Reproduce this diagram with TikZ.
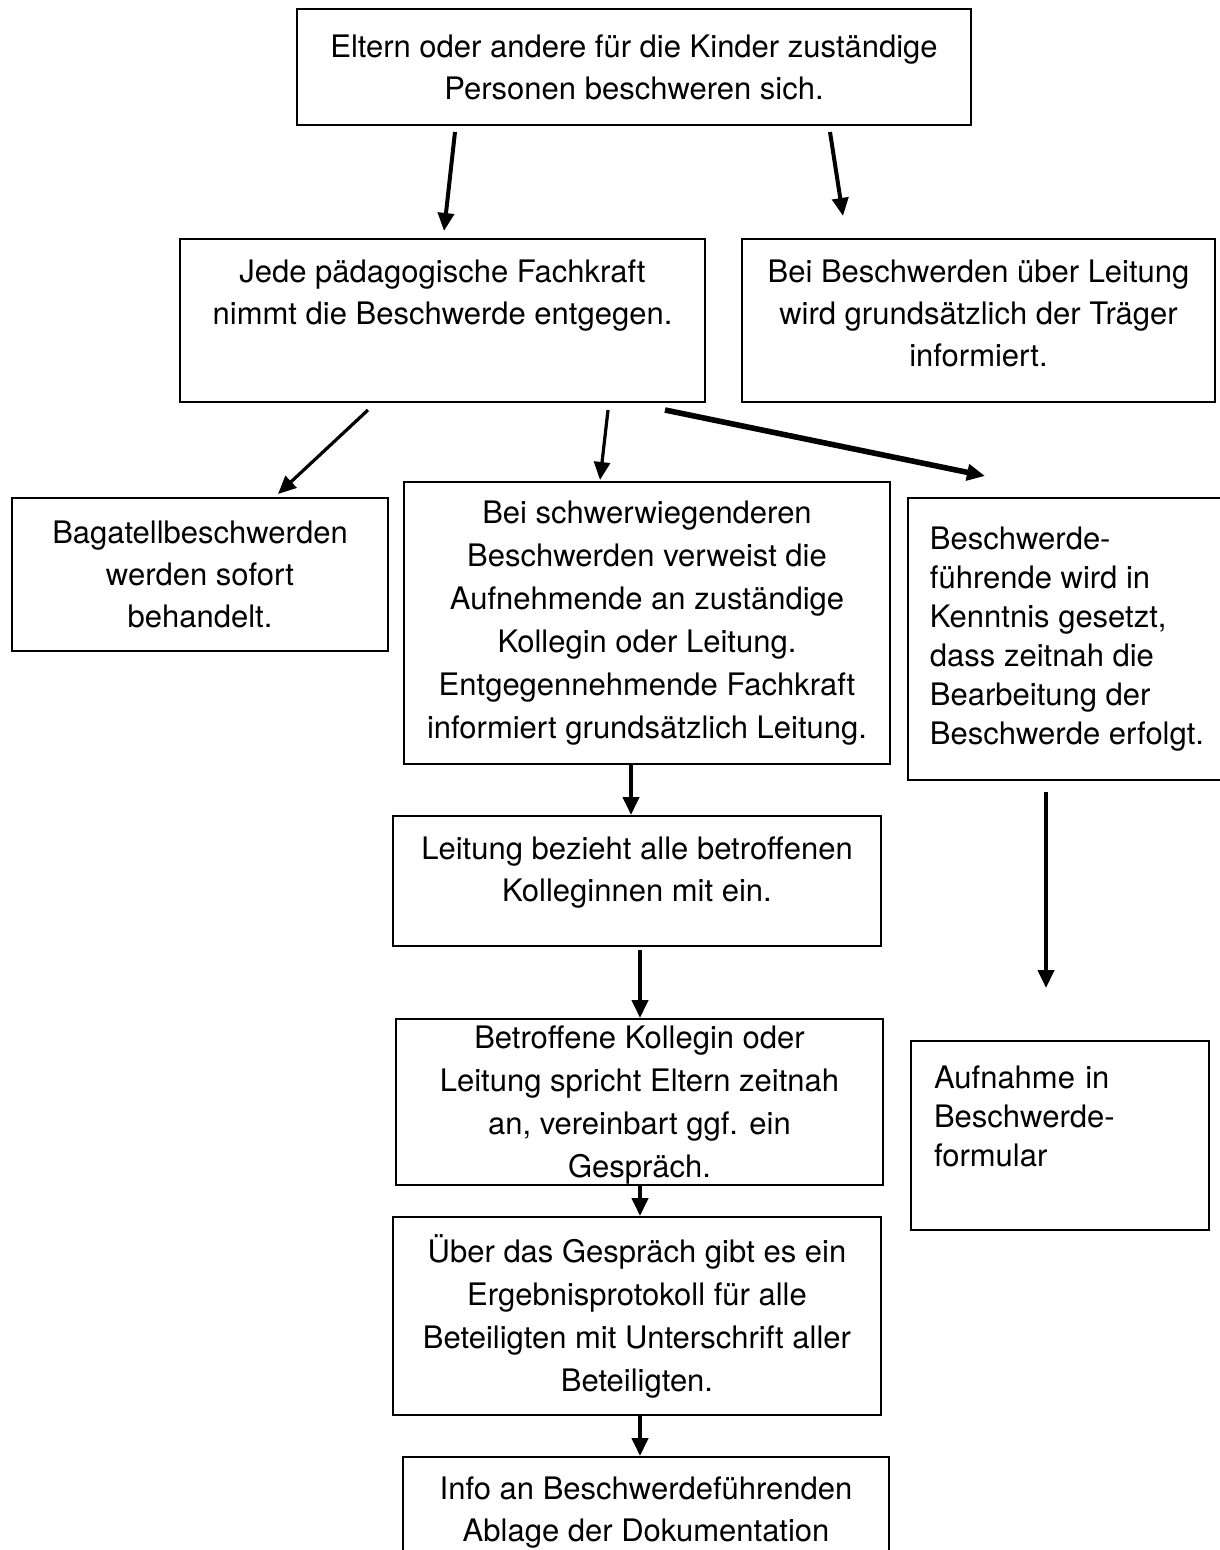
\documentclass[tikz,border=0pt]{standalone}
\usepackage{fontspec}
\setmainfont{TeX Gyre Heros}
\usetikzlibrary{arrows.meta}
\begin{document}
\begin{tikzpicture}[x=0.5pt, y=-0.5pt,
	kasten/.style={draw, line width=1pt, inner sep=0pt, anchor=north west, align=center,
		font=\fontsize{15.5}{21}\selectfont},
	hohkasten/.style={kasten, font=\fontsize{15.5}{21.5}\selectfont},
	linkskasten/.style={kasten, align=left, inner xsep=11.5pt,
		font=\fontsize{15.5}{19.5}\selectfont},
	pfeil/.style={line width=2pt, -{Triangle[width=8pt, length=9pt]}}]
	\useasboundingbox (0,0) rectangle (1219,1550);
	\node [kasten, minimum width=337pt, minimum height=58pt] (eltern) at (296,8)
		{Eltern oder andere für die Kinder zuständige\\Personen beschweren sich.};
	\node [kasten, minimum width=262.5pt, minimum height=81.5pt, text depth=7pt] (fachkraft) at (179,238)
		{Jede pädagogische Fachkraft\\nimmt die Beschwerde entgegen.\\\mbox{}};
	\node [kasten, minimum width=236.5pt, minimum height=81.5pt, text depth=7pt] (traeger) at (741,238)
		{Bei Beschwerden über Leitung\\wird grundsätzlich der Träger\\informiert.};
	\node [kasten, minimum width=188pt, minimum height=76.5pt] (bagatell) at (11,497)
		{Bagatellbeschwerden\\werden sofort\\behandelt.};
	\node [hohkasten, minimum width=243pt, minimum height=141pt] (schwer) at (403,481)
		{Bei schwerwiegenderen\\Beschwerden verweist die\\Aufnehmende an zuständige\\Kollegin oder Leitung.\\Entgegennehmende Fachkraft\\informiert grundsätzlich Leitung.};
	\node [linkskasten, inner xsep=0pt, minimum width=159pt, minimum height=141pt] (kenntnis) at (907,497)
		{Beschwerde-\\führende wird in\\Kenntnis gesetzt,\\dass zeitnah die\\Bearbeitung der\\Beschwerde erfolgt.};
	\node [kasten, minimum width=244pt, minimum height=65pt, text depth=11.4pt] (einbezug) at (392,815)
		{Leitung bezieht alle betroffenen\\Kolleginnen mit ein.};
	\node [hohkasten, minimum width=243.5pt, minimum height=83pt, text height=78.8pt, text depth=3.3pt] (gespraech) at (395,1018)
		{Betroffene Kollegin oder\\Leitung spricht Eltern zeitnah\\an, vereinbart ggf. ein\\Gespräch.};
	\node [hohkasten, minimum width=244pt, minimum height=99pt] (protokoll) at (392,1216)
		{Über das Gespräch gibt es ein\\Ergebnisprotokoll für alle\\Beteiligten mit Unterschrift aller\\Beteiligten.};
	\node [kasten, minimum width=243pt, minimum height=55.5pt] (ablage) at (402,1456)
		{Info an Beschwerdeführenden\\Ablage der Dokumentation};
	\node [linkskasten, text width=126pt, minimum height=94.5pt] (formular) at (910,1040)
		{Aufnahme in\\Beschwerde-\\formular\\\mbox{}};
	\coordinate (a1) at (455,132);  \coordinate (b1) at (444,231);
	\coordinate (a2) at (830,132);  \coordinate (b2) at (843,216);
	\coordinate (a3) at (368,410);  \coordinate (b3) at (278,494);
	\coordinate (a4) at (608,410);  \coordinate (b4) at (600,480);
	\coordinate (a5) at (665,410);  \coordinate (b5) at (985,476);
	\coordinate (a6) at (631,763);  \coordinate (b6) at (631,815);
	\coordinate (a7) at (640,950);  \coordinate (b7) at (640,1018);
	\coordinate (a8) at (640,1184); \coordinate (b8) at (640,1216);
	\coordinate (a9) at (1046,792); \coordinate (b9) at (1046,988);
	\coordinate (a10) at (640,1414); \coordinate (b10) at (640,1456);
	\draw [pfeil] (a1) -- (b1);
	\draw [pfeil] (a2) -- (b2);
	\draw [pfeil, line width=1.6pt] (a3) -- (b3);
	\draw [pfeil, line width=1.6pt] (a4) -- (b4);
	\draw [pfeil, line width=2.8pt] (a5) -- (b5);
	\foreach \i in {6,7,...,10}{
		\draw [pfeil] (a\i) -- (b\i);
	}
\end{tikzpicture}
\end{document}
